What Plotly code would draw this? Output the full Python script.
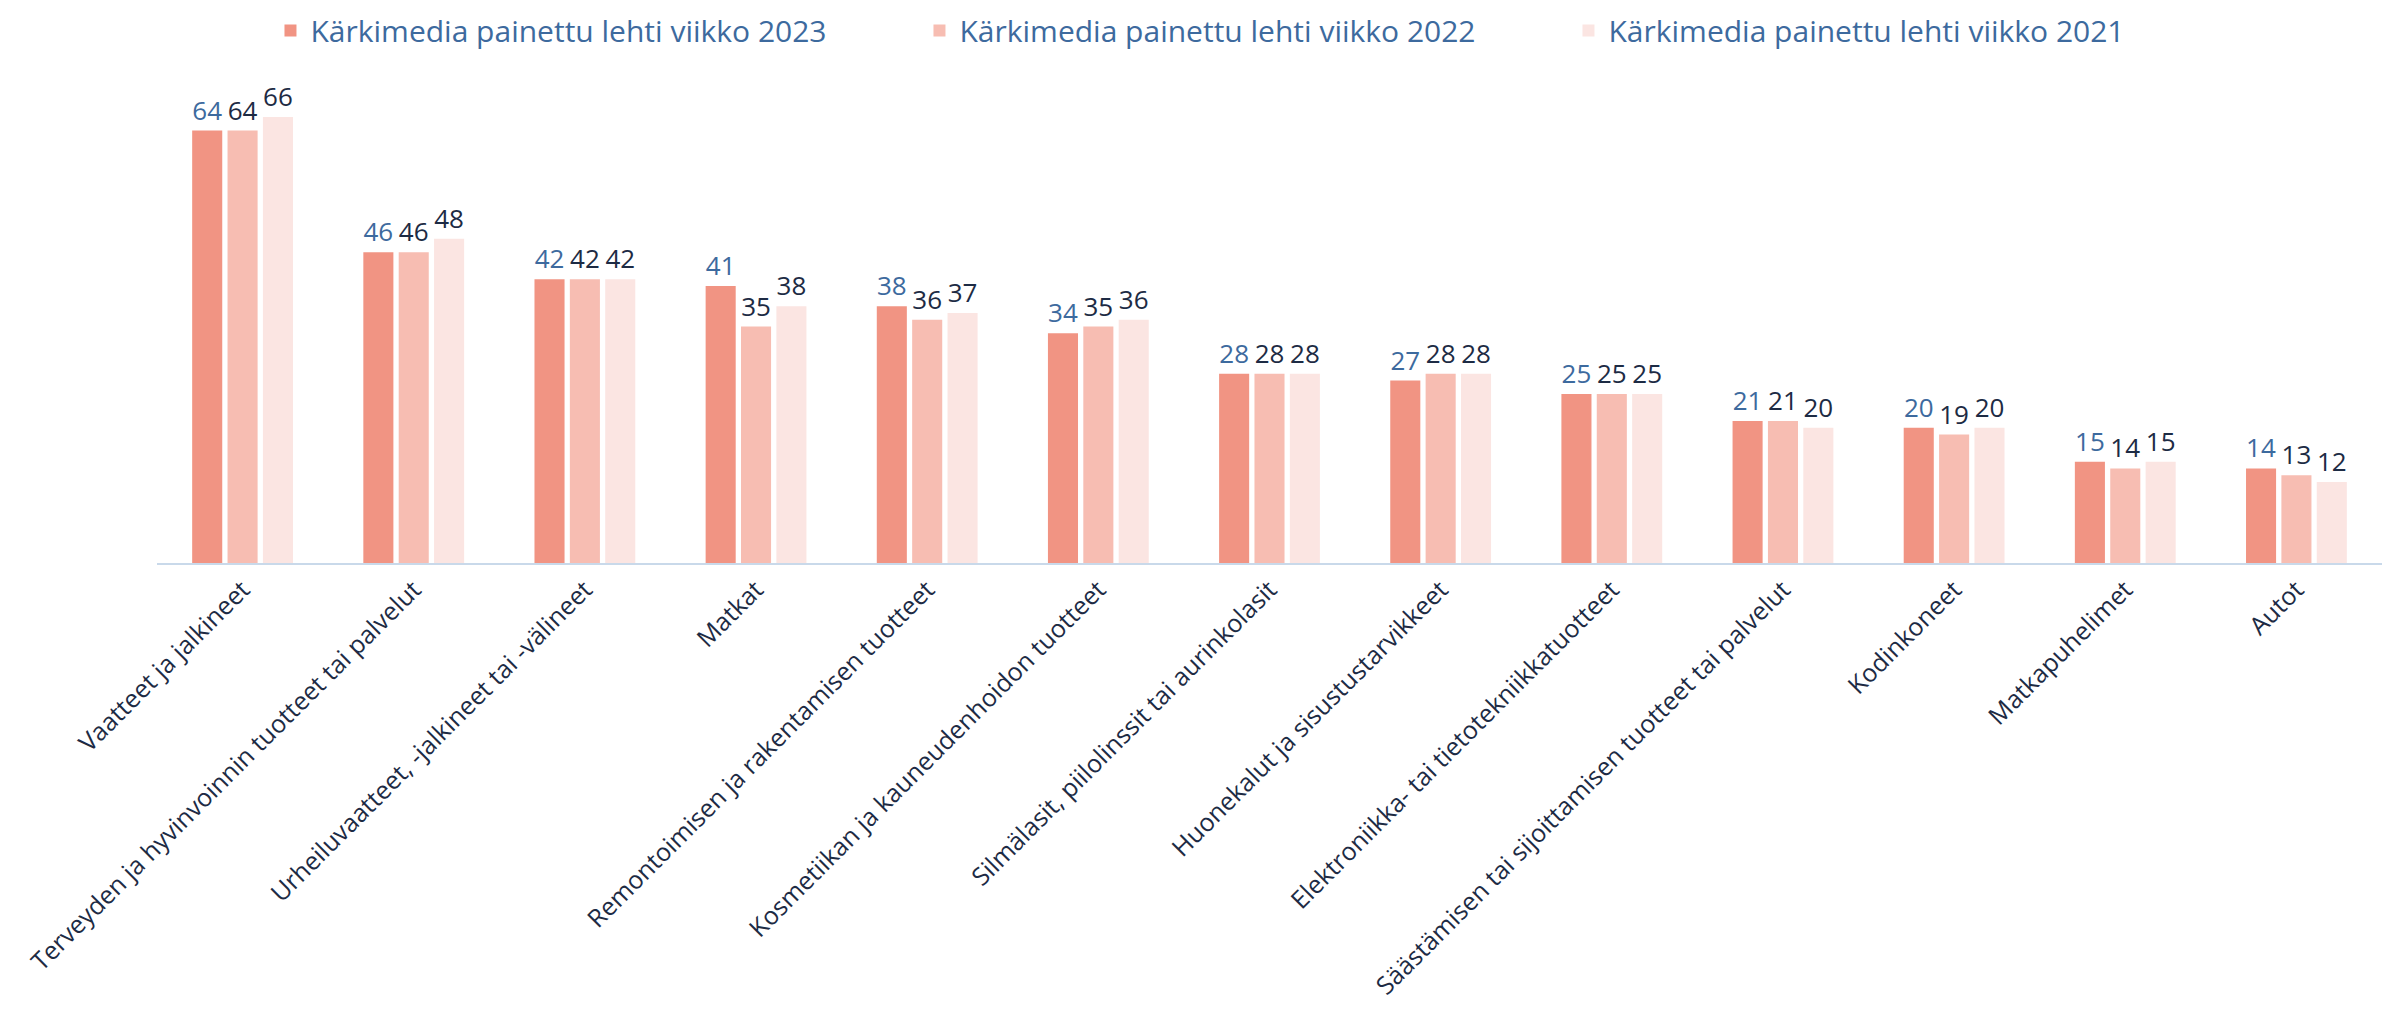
import plotly.graph_objects as go

categories = [
    "Vaatteet ja jalkineet",
    "Terveyden ja hyvinvoinnin tuotteet tai palvelut",
    "Urheiluvaatteet, -jalkineet tai -välineet",
    "Matkat",
    "Remontoimisen ja rakentamisen tuotteet",
    "Kosmetiikan ja kauneudenhoidon tuotteet",
    "Silmälasit, piilolinssit tai aurinkolasit",
    "Huonekalut ja sisustustarvikkeet",
    "Elektroniikka- tai tietotekniikkatuotteet",
    "Säästämisen tai sijoittamisen tuotteet tai palvelut",
    "Kodinkoneet",
    "Matkapuhelimet",
    "Autot",
]
v2023 = [64, 46, 42, 41, 38, 34, 28, 27, 25, 21, 20, 15, 14]
v2022 = [64, 46, 42, 35, 36, 35, 28, 28, 25, 21, 19, 14, 13]
v2021 = [66, 48, 42, 38, 37, 36, 28, 28, 25, 20, 20, 15, 12]

series = [
    ("Kärkimedia painettu lehti viikko 2023", v2023, "#f19483", "#3d6a9e"),
    ("Kärkimedia painettu lehti viikko 2022", v2022, "#f7bdb2", "#1d2b44"),
    ("Kärkimedia painettu lehti viikko 2021", v2021, "#fbe5e2", "#1d2b44"),
]

FONT = "Open Sans"
fig = go.Figure()
for name, vals, col, tcol in series:
    fig.add_trace(go.Bar(
        x=categories, y=vals, name=name,
        marker=dict(color=col, line=dict(width=0)),
        text=vals, textposition="outside", constraintext="none",
        textfont=dict(color=tcol, size=26, family=FONT),
        cliponaxis=False,
    ))

fig.update_layout(
    width=2383, height=999,
    barmode="group", bargap=0.38, bargroupgap=0.15,
    plot_bgcolor="white", paper_bgcolor="white",
    margin=dict(l=149, r=9, t=82, b=444, autoexpand=False),
    font=dict(family=FONT, color="#1d2b44"),
    legend=dict(
        orientation="h", x=0.051, xanchor="left", y=1.126, yanchor="middle",
        font=dict(size=30, color="#3d6a9e", family=FONT),
        entrywidth=604, entrywidthmode="pixels",
        itemwidth=30, tracegroupgap=0,
    ),
    showlegend=True,
)
fig.update_xaxes(
    tickangle=-45, tickfont=dict(size=25, color="#1d2b44", family=FONT),
    showline=True, linecolor="#c9d9ea", linewidth=2,
    showgrid=False, ticks="", automargin=False,
)
fig.update_yaxes(range=[0, 70], visible=False, showgrid=False)

fig.write_html("out.html")
